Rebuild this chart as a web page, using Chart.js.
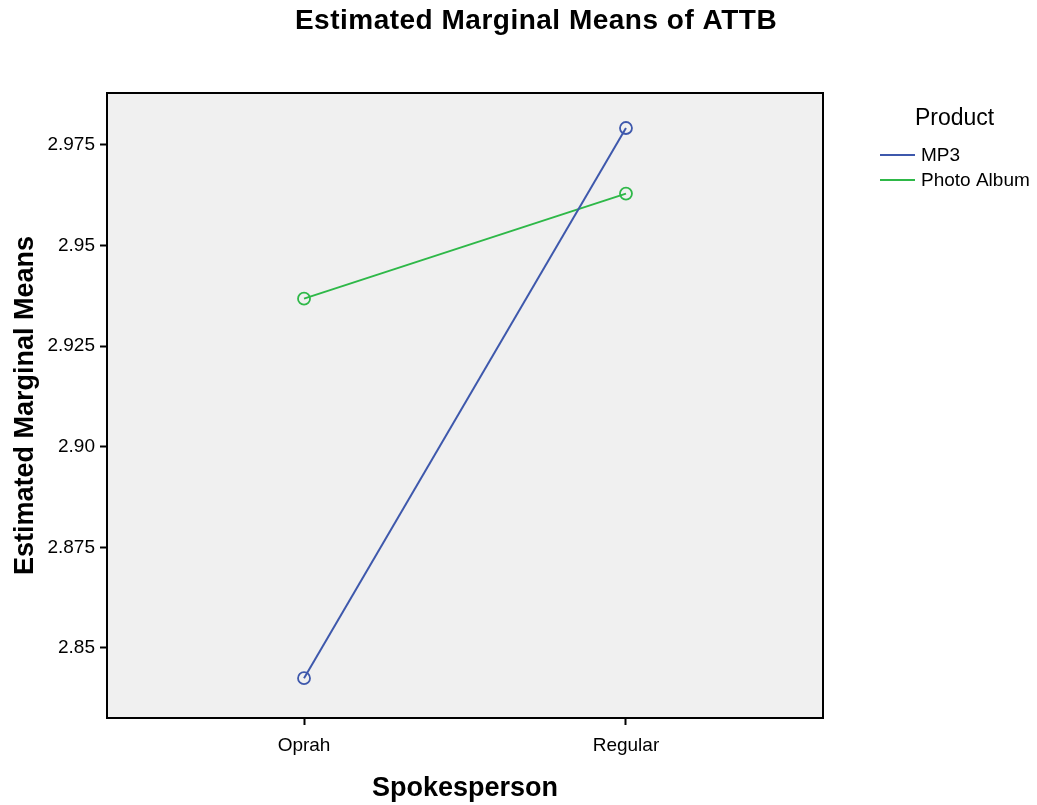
<!DOCTYPE html>
<html>
<head>
<meta charset="utf-8">
<script src="https://cdn.jsdelivr.net/npm/chart.js@4"></script>
<style>
html,body{margin:0;padding:0;background:#fff;}
#wrap{width:1037px;height:805px;position:relative;}
</style>
</head>
<body>
<div id="wrap"><canvas id="c" width="1037" height="805"></canvas></div>
<script>
const chartTitle = 'Estimated Marginal Means of ATTB';
const xTitle = 'Spokesperson';
const yTitle = 'Estimated Marginal Means';
const legendTitle = 'Product';
const categories = ['Oprah', 'Regular'];
const seriesNames = ['MP3', 'Photo Album'];
const mp3Values = [2.8425, 2.9792];
const photoAlbumValues = [2.9368, 2.9629];
const yTickValues = [2.85, 2.875, 2.90, 2.925, 2.95, 2.975];
const yTickLabels = ['2.85', '2.875', '2.90', '2.925', '2.95', '2.975'];
const colors = ['#3E58AC', '#2EB848'];

const FONT = '"Liberation Sans", Arial, sans-serif';

function toPoints(vals){ return vals.map((v,i)=>({x:i, y:v})); }

const framePlugin = {
  id: 'frame',
  beforeDatasetsDraw(chart){
    const {ctx, chartArea:a} = chart;
    ctx.save();
    ctx.fillStyle = '#F0F0F0';
    ctx.fillRect(a.left, a.top, a.right-a.left, a.bottom-a.top);
    ctx.restore();
  },
  afterDraw(chart){
    const {ctx, chartArea:a} = chart;
    ctx.save();
    ctx.strokeStyle = '#000';
    ctx.lineWidth = 2;
    ctx.strokeRect(a.left, a.top, a.right-a.left, a.bottom-a.top);
    // title
    ctx.fillStyle = '#000';
    ctx.letterSpacing = '0.5px';
    ctx.font = 'bold 28px ' + FONT;
    ctx.textAlign = 'center';
    ctx.textBaseline = 'middle';
    ctx.fillText(chartTitle, 536, 21);
    // legend
    ctx.letterSpacing = '0px';
    ctx.font = '23px ' + FONT;
    ctx.textAlign = 'left';
    ctx.fillText(legendTitle, 915, 119);
    ctx.font = '19px ' + FONT;
    chart.data.datasets.forEach((ds, i) => {
      const y = 155 + i*25;
      ctx.strokeStyle = ds.borderColor;
      ctx.lineWidth = 2;
      ctx.beginPath();
      ctx.moveTo(880, y);
      ctx.lineTo(915, y);
      ctx.stroke();
      ctx.fillStyle = '#000';
      ctx.fillText(ds.label, 921, y+1);
    });
    ctx.restore();
  }
};

new Chart(document.getElementById('c'), {
  type: 'line',
  data: {
    datasets: [
      {label: seriesNames[0], data: toPoints(mp3Values), borderColor: colors[0], backgroundColor: 'rgba(0,0,0,0)', borderWidth: 2, pointRadius: 6, pointBorderWidth: 1.8, pointBackgroundColor: 'rgba(0,0,0,0)', pointBorderColor: colors[0], tension: 0},
      {label: seriesNames[1], data: toPoints(photoAlbumValues), borderColor: colors[1], backgroundColor: 'rgba(0,0,0,0)', borderWidth: 2, pointRadius: 6, pointBorderWidth: 1.8, pointBackgroundColor: 'rgba(0,0,0,0)', pointBorderColor: colors[1], tension: 0}
    ]
  },
  options: {
    responsive: false,
    animation: false,
    events: [],
    layout: {padding: {left: 0, right: 214, top: 93, bottom: 0}},
    plugins: {legend: {display: false}, title: {display: false}, tooltip: {enabled: false}},
    scales: {
      x: {
        type: 'linear',
        min: -0.612,
        max: 1.612,
        afterBuildTicks(scale){ scale.ticks = categories.map((c,i)=>({value:i})); },
        afterFit(scale){ scale.height = 87; },
        grid: {drawOnChartArea: false, tickLength: 7, tickColor: '#000', tickWidth: 2},
        border: {display: false},
        ticks: {color: '#000', font: {family: FONT, size: 19}, padding: 9, maxRotation: 0,
          callback(v){ return categories[v] !== undefined ? categories[v] : ''; }},
        title: {display: true, text: xTitle, color: '#000', font: {family: FONT, size: 27, weight: 'bold'}, padding: {top: 0, bottom: 0}}
      },
      y: {
        type: 'linear',
        min: 2.8326,
        max: 2.9879,
        afterBuildTicks(scale){ scale.ticks = yTickValues.map(v=>({value:v})); },
        afterFit(scale){ scale.width = 107; },
        grid: {drawOnChartArea: false, tickLength: 7, tickColor: '#000', tickWidth: 2},
        border: {display: false},
        ticks: {color: '#000', font: {family: FONT, size: 19}, padding: 5,
          callback(v){ const i = yTickValues.findIndex(t=>Math.abs(t-v)<1e-9); return i>=0 ? yTickLabels[i] : ''; }},
        title: {display: true, text: yTitle, color: '#000', font: {family: FONT, size: 27, weight: 'bold'}, padding: {top: 9, bottom: 0}}
      }
    }
  },
  plugins: [framePlugin]
});
</script>
</body>
</html>
